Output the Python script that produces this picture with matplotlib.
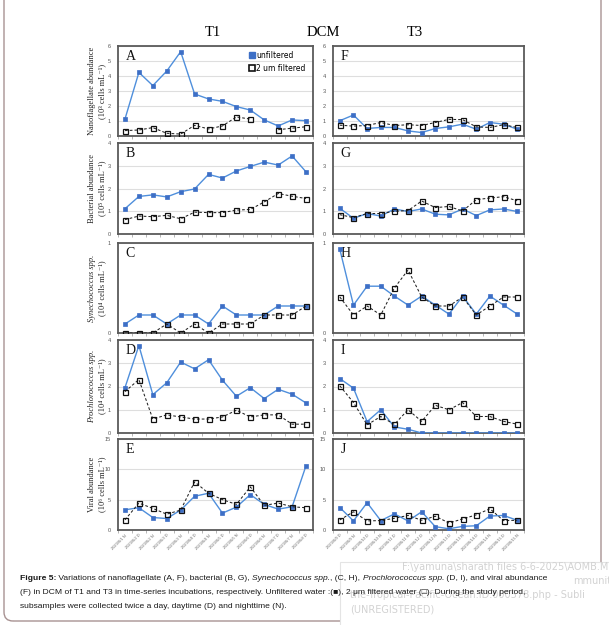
import matplotlib
matplotlib.use('Agg')
import matplotlib.pyplot as plt
import numpy as np
from matplotlib.patches import FancyBboxPatch, Rectangle
from matplotlib.lines import Line2D

# ---------------- data ----------------
t1_labels = ['2023/6/1 N', '2023/6/2 D', '2023/6/2 N', '2023/6/3 D', '2023/6/3 N',
             '2023/6/4 D', '2023/6/4 N', '2023/6/5 D', '2023/6/5 N', '2023/6/6 D',
             '2023/6/6 N', '2023/6/7 D', '2023/6/7 N', '2023/6/8 D']
t3_labels = ['2023/6/9 D', '2023/6/9 N', '2023/6/10 D', '2023/6/10 N', '2023/6/11 D',
             '2023/6/11 N', '2023/6/12 D', '2023/6/12 N', '2023/6/13 D', '2023/6/13 N',
             '2023/6/14 D', '2023/6/14 N', '2023/6/15 D', '2023/6/15 N']

# T1 (left column)
nano_t1_unf = [1.13, 4.24, 3.36, 4.33, 5.62, 2.80, 2.47, 2.31, 1.96, 1.73, 1.07, 0.67, 1.07, 1.02]
nano_t1_fil = [0.36, 0.40, 0.56, 0.18, 0.13, 0.71, 0.47, 0.67, 1.27, 1.13, np.nan, 0.42, 0.52, 0.62]
bact_t1_unf = [1.11, 1.65, 1.72, 1.63, 1.86, 1.98, 2.62, 2.46, 2.77, 2.97, 3.16, 3.03, 3.43, 2.73]
bact_t1_fil = [0.63, 0.79, 0.76, 0.82, 0.67, 0.96, 0.94, 0.94, 1.05, 1.08, 1.41, 1.78, 1.66, 1.56]
syn_t1_unf = [0.1, 0.2, 0.2, 0.1, 0.2, 0.2, 0.1, 0.3, 0.2, 0.2, 0.2, 0.3, 0.3, 0.3]
syn_t1_fil = [0.0, 0.0, 0.0, 0.1, 0.0, 0.1, 0.0, 0.1, 0.1, 0.1, 0.2, 0.2, 0.2, 0.3]
pro_t1_unf = [1.95, 3.76, 1.65, 2.16, 3.05, 2.76, 3.15, 2.27, 1.58, 1.95, 1.48, 1.88, 1.67, 1.29]
pro_t1_fil = [1.78, 2.30, 0.60, 0.78, 0.69, 0.60, 0.60, 0.69, 0.98, 0.69, 0.78, 0.78, 0.38, 0.38]
vir_t1_unf = [3.33, 3.67, 2.06, 1.89, 3.28, 5.56, 6.06, 2.78, 3.78, 5.83, 4.22, 3.44, 3.83, 10.6]
vir_t1_fil = [1.67, 4.44, 3.56, 2.61, 3.28, 7.94, 6.06, 5.00, 4.22, 7.11, 4.06, 4.44, 3.83, 3.67]

# T3 (right column)
nano_t3_unf = [1.02, 1.40, 0.50, 0.57, 0.57, 0.34, 0.23, 0.50, 0.61, 0.79, 0.45, 0.90, 0.79, 0.45]
nano_t3_fil = [0.72, 0.66, 0.70, 0.90, 0.70, 0.75, 0.70, 0.90, 1.11, 1.09, 0.61, 0.57, 0.75, 0.57]
bact_t3_unf = [1.13, 0.69, 0.90, 0.79, 1.10, 0.99, 1.10, 0.87, 0.84, 1.10, 0.81, 1.06, 1.10, 0.99]
bact_t3_fil = [0.85, 0.72, 0.90, 0.90, 1.00, 1.03, 1.45, 1.16, 1.21, 1.01, 1.51, 1.58, 1.64, 1.46]
syn_t3_unf = [0.93, 0.31, 0.52, 0.52, 0.41, 0.31, 0.41, 0.31, 0.21, 0.41, 0.21, 0.41, 0.31, 0.21]
syn_t3_fil = [0.40, 0.20, 0.30, 0.20, 0.50, 0.70, 0.40, 0.30, 0.30, 0.40, 0.20, 0.30, 0.40, 0.40]
pro_t3_unf = [2.34, 1.93, 0.49, 1.00, 0.26, 0.16, 0.0, 0.0, 0.0, 0.0, 0.0, 0.0, 0.0, 0.0]
pro_t3_fil = [2.03, 1.31, 0.35, 0.71, 0.37, 1.00, 0.50, 1.19, 1.00, 1.31, 0.71, 0.71, 0.50, 0.38]
vir_t3_unf = [3.70, 1.50, 4.50, 1.55, 2.65, 1.50, 3.00, 0.55, 0.20, 0.60, 0.70, 2.30, 2.40, 1.60]
vir_t3_fil = [1.66, 3.00, 1.50, 1.55, 1.93, 2.40, 1.60, 2.27, 1.16, 1.82, 2.50, 3.50, 1.55, 1.60]

ylabels = [("Nanoflagellate abundance", "(10³ cells mL⁻¹)", False),
           ("Bacterial abundance", "(10⁵ cells mL⁻¹)", False),
           ("Synechococcus spp.", "(10⁴ cells mL⁻¹)", True),
           ("Prochlorococcus spp.", "(10⁴ cells mL⁻¹)", True),
           ("Viral abundance", "(10⁶ cells mL⁻¹)", False)]
yticks_rows = [[0, 1, 2, 3, 4, 5, 6], [0, 1, 2, 3, 4], [0, 1], [0, 1, 2, 3, 4], [0, 5, 10, 15]]
letters_left = ['A', 'B', 'C', 'D', 'E']
letters_right = ['F', 'G', 'H', 'I', 'J']
series_left = [(nano_t1_unf, nano_t1_fil), (bact_t1_unf, bact_t1_fil), (syn_t1_unf, syn_t1_fil),
               (pro_t1_unf, pro_t1_fil), (vir_t1_unf, vir_t1_fil)]
series_right = [(nano_t3_unf, nano_t3_fil), (bact_t3_unf, bact_t3_fil), (syn_t3_unf, syn_t3_fil),
                (pro_t3_unf, pro_t3_fil), (vir_t3_unf, vir_t3_fil)]
legend_labels = ['unfiltered', '2 um filtered']

# ---------------- style / layout ----------------
W, H = 609, 625
fig = plt.figure(figsize=(W / 100, H / 100), dpi=100)
SERIF = ['Liberation Serif', 'DejaVu Serif']
SANS = ['Liberation Sans', 'DejaVu Sans']
LINE_BLUE = '#4f8fdc'
MK_BLUE = '#3d6fc6'
SPINE = '#5a5a5a'
GRID = '#dedede'

rows = [(46, 136), (143, 234), (243, 333), (340, 433), (439, 530)]
cols = [(118, 313), (333, 524)]


def ax_at(l, t, r, b):
    return fig.add_axes([l / W, 1 - b / H, (r - l) / W, (b - t) / H])


def panel(ax, unf, fil, yt, letter, labels, show_x):
    x = np.arange(len(unf))
    ax.plot(x, unf, '-', color=LINE_BLUE, lw=1.0, zorder=3)
    hu, = ax.plot(x, unf, 's', ms=3.3, mfc=MK_BLUE, mec=MK_BLUE, mew=0.5, zorder=4)
    ax.plot(x, fil, '--', color='#222222', lw=0.75, dashes=(2.6, 2.0), zorder=5)
    hf, = ax.plot(x, fil, 's', ms=3.6, mfc='none', mec='#111111', mew=0.9, zorder=6)
    ax.set_xlim(-0.5, len(unf) - 0.5)
    ax.set_ylim(yt[0], yt[-1])
    ax.set_yticks(yt)
    ax.set_yticklabels([str(v) for v in yt], fontsize=4, color='#555555', family=SANS)
    ax.tick_params(axis='y', length=0, pad=5)
    ax.grid(axis='y', color=GRID, lw=0.8, zorder=0)
    ax.set_axisbelow(True)
    ax.set_xticks(x)
    if show_x:
        ax.set_xticklabels(labels, rotation=45, ha='right', rotation_mode='anchor',
                           fontsize=2.9, color='#666666', family=SANS)
    else:
        ax.set_xticklabels([])
    ax.tick_params(axis='x', which='major', length=0, pad=2.5)
    ax.set_xticks(np.arange(-0.5, len(unf), 1.0), minor=True)
    ax.tick_params(axis='x', which='minor', length=2, width=0.5, color='#999999', direction='out')
    for s in ax.spines.values():
        s.set_color(SPINE)
        s.set_linewidth(1.3)
    ax.text(0.04, 0.955, letter, transform=ax.transAxes, ha='left', va='top',
            fontsize=10, family=SERIF, color='#111111')
    return hu, hf


for i, (t, b) in enumerate(rows):
    axl = ax_at(cols[0][0], t, cols[0][1], b)
    hu, hf = panel(axl, series_left[i][0], series_left[i][1], yticks_rows[i],
                   letters_left[i], t1_labels, i == 4)
    axr = ax_at(cols[1][0], t, cols[1][1], b)
    panel(axr, series_right[i][0], series_right[i][1], yticks_rows[i],
          letters_right[i], t3_labels, i == 4)
    l1, l2, ital = ylabels[i]
    yc = 1 - (t + b) / 2 / H
    fig.text(92 / W, yc, l1, rotation=90, ha='center', va='center', fontsize=6,
             family=SERIF, style='italic' if ital else 'normal', color='#222222')
    fig.text(102 / W, yc, l2, rotation=90, ha='center', va='center', fontsize=6,
             family=SERIF, color='#222222')
    if i == 0:
        h1 = Line2D([], [], ls='none', marker='s', ms=4, mfc=MK_BLUE, mec=MK_BLUE)
        h2 = Line2D([], [], ls='none', marker='s', ms=4, mfc='none', mec='#111111', mew=1.2)
        axl.legend([h1, h2], legend_labels, loc='upper left', bbox_to_anchor=(0.655, 1.0),
                   frameon=False, handlelength=0.5, handletextpad=0.25, borderaxespad=0.2,
                   labelspacing=0.6, prop={'family': ['DejaVu Sans'], 'size': 5.5})

# column titles
fig.text(213 / W, 1 - 32 / H, 'T1', ha='center', va='center', fontsize=10.5, family=SERIF)
fig.text(323 / W, 1 - 32 / H, 'DCM', ha='center', va='center', fontsize=10.5, family=SERIF)
fig.text(415 / W, 1 - 33 / H, 'T3', ha='center', va='center', fontsize=10.5, family=SERIF)

# outer rounded frame (top edge lies outside the picture)
frame = FancyBboxPatch((4, 4), 597, 900, boxstyle='round,pad=0,rounding_size=9',
                       transform=None, fill=False, edgecolor='#a89292', lw=1.0)
fig.patches.append(frame)

# faint watermark box
wm = Rectangle((340, -5), 300, 625 - 562 + 5, transform=None, facecolor='white',
               edgecolor='#e4e4e4', lw=0.8)
fig.patches.append(wm)
wm_lines = [(402, 570, 'F:\\yamuna\\sharath files 6-6-2025\\AOMB.MS.ID.0'),
            (573, 584, 'mmuniti'),
            (350, 598, 'the-Tropical-Pacific-Ocean.ID.000578.php - Subli'),
            (350, 612, '(UNREGISTERED)')]
for x0, y0, s in wm_lines:
    fig.text(x0 / W, 1 - y0 / H, s, fontsize=7.0, family=['DejaVu Sans'], color='#d2d2d2',
             va='baseline', ha='left', zorder=1)

# caption (rich text)
renderer = fig.canvas.get_renderer()


def rich_line(x, y, parts, size=6.1):
    for txt, st in parts:
        t = fig.text(x / W, 1 - y / H, txt, fontsize=size, family=SANS,
                     fontweight='bold' if st == 'b' else 'normal',
                     fontstyle='italic' if st == 'i' else 'normal',
                     va='baseline', ha='left', color='#1a1a1a', zorder=5)
        x += t.get_window_extent(renderer).width


rich_line(20, 580, [('Figure 5:', 'b'), (' Variations of nanoflagellate (A, F), bacterial (B, G), ', 'n'),
                    ('Synechococcus spp.', 'i'), (', (C, H), ', 'n'), ('Prochlorococcus spp.', 'i'),
                    (' (D, I), and viral abundance', 'n')])
rich_line(20, 594, [('(F) in DCM of T1 and T3 in time-series incubations, respectively. Unfiltered water :(■), '
                     '2 μm filtered water (□). During the study period,', 'n')])
rich_line(20, 608, [('subsamples were collected twice a day, daytime (D) and nighttime (N).', 'n')])

fig.savefig('out.png', dpi=100)
